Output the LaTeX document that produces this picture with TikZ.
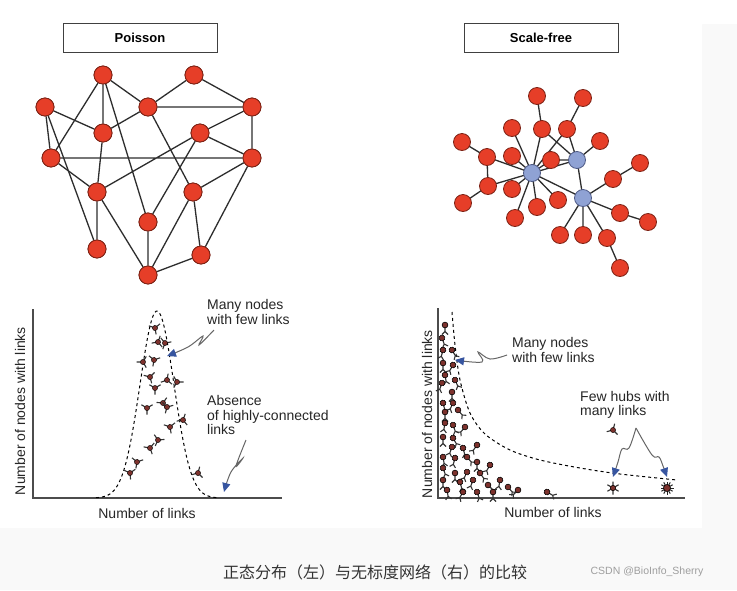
\documentclass[tikz,border=0pt]{standalone}
\usepackage{fontspec}
\setmainfont{Liberation Sans}
\newfontfamily\cjk{Noto Sans CJK SC}
\usetikzlibrary{arrows.meta}
\definecolor{nodeRed}{RGB}{230,62,40}
\definecolor{nodeRim}{RGB}{125,35,22}
\definecolor{hubBlue}{RGB}{143,162,212}
\definecolor{hubRim}{RGB}{80,92,135}
\definecolor{edgeGray}{RGB}{45,45,45}
\definecolor{arrowBlue}{RGB}{55,85,160}
\definecolor{markRed}{RGB}{125,50,45}
\definecolor{bgGray}{RGB}{249,249,249}
\tikzset{
  lbl/.style={font=\fontsize{14}{14.5}\selectfont, text=black!85, inner sep=0pt},
  tripod/.pic={\draw[line width=1.1pt, black!80] (0,0) -- (90:6.5) (0,0) -- (210:6.5) (0,0) -- (330:6.5);
               \fill[markRed, draw=black, line width=0.4pt] (0,0) circle (2.6);},
  lolly/.pic={\draw[line width=1.1pt, black!80] (0,0) -- (0,6.5) -- ++(-3,3) (0,6.5) -- ++(3,3);
              \fill[markRed, draw=black, line width=0.6pt] (0,0) circle (2.9);}
}
\begin{document}
\begin{tikzpicture}[x=1pt, y=-1pt,
    vertex/.style={circle, fill=nodeRed, draw=nodeRim, line width=0.8pt, minimum size=18pt, inner sep=0pt},
    hub/.style={circle, fill=hubBlue, draw=hubRim, line width=0.8pt, minimum size=17pt, inner sep=0pt},
    link/.style={draw=edgeGray, line width=1.3pt},
    axis/.style={draw=black!70, line width=1.4pt},
    curve/.style={line width=1pt, dash pattern=on 3pt off 3pt},
    squig/.style={draw=black!60, line width=1pt, -{Triangle[length=9pt, width=8pt, fill=arrowBlue, color=arrowBlue]}},
    title/.style={draw=black!75, line width=0.9pt, minimum width=154pt, minimum height=29pt, font=\bfseries\fontsize{13}{13}\selectfont}]
  \useasboundingbox (0,0) rectangle (737,590);
  \fill[bgGray] (0,0) rectangle (737,590);
  \fill[white] (0,0) rectangle (702,528) (702,0) rectangle (737,24);

  % Titles
  \node[title] (tpois) at (140,38) {Poisson};
  \node[title] (tscal) at (541,38) {Scale-free};

  % Poisson network: nodes
  \node[vertex] (pa) at (103,75)  {};
  \node[vertex] (pb) at (194,75)  {};
  \node[vertex] (pc) at (45,107)  {};
  \node[vertex] (pd) at (148,107) {};
  \node[vertex] (pe) at (252,107) {};
  \node[vertex] (pf) at (103,133) {};
  \node[vertex] (pg) at (200,133) {};
  \node[vertex] (ph) at (51,158)  {};
  \node[vertex] (pi) at (252,158) {};
  \node[vertex] (pj) at (97,192)  {};
  \node[vertex] (pk) at (193,192) {};
  \node[vertex] (pl) at (148,222) {};
  \node[vertex] (pm) at (97,249)  {};
  \node[vertex] (pn) at (201,255) {};
  \node[vertex] (po) at (148,275) {};
  % Poisson network: edges
  \draw[link] (pa)--(pd) (pa)--(pf) (pa)--(ph) (pa)--(pl) (pb)--(pd) (pb)--(pe);
  \draw[link] (pc)--(pf) (pc)--(ph) (pc)--(pm) (pd)--(pe) (pd)--(pf) (pd)--(pk);
  \draw[link] (pe)--(pg) (pe)--(pi) (pg)--(pj) (pg)--(pi) (pg)--(pl) (ph)--(pi);
  \draw[link] (ph)--(pj) (pf)--(pj) (pj)--(pm) (pj)--(po) (pk)--(po) (pk)--(pn);
  \draw[link] (pi)--(pk) (pi)--(pn) (pl)--(po) (pn)--(po);
  % redraw nodes on top of edges
  \foreach \n in {pa,pb,pc,pd,pe,pf,pg,ph,pi,pj,pk,pl,pm,pn,po}
    \node[vertex] at (\n) {};

  % Scale-free network: hubs and leaves
  \coordinate (h1) at (532,173);
  \coordinate (h2) at (577,160);
  \coordinate (h3) at (583,198);
  \foreach \n/\x/\y in {s1/537/96, s2/583/98, s3/512/128, s4/542/129, s5/567/129, s6/462/142,
      s7/600/141, s8/487/157, s9/512/156, s10/551/160, s11/640/163, s12/613/179, s13/488/186,
      s14/512/189, s15/463/203, s16/558/200, s17/537/207, s18/515/218, s19/620/213,
      s20/648/222, s21/560/235, s22/583/235, s23/607/238, s24/620/268}
    \coordinate (\n) at (\x,\y);
  % Scale-free network: edges
  \draw[link] (h1)--(h2) (h1)--(h3) (h2)--(h3) (h2)--(s4);
  \draw[link] (s1)--(s4)--(h1) (s2)--(s5)--(h2) (s5)--(h1) (s3)--(h1) (s6)--(s8)--(h1);
  \draw[link] (s8)--(s13) (s9)--(h1) (s10)--(h2) (s10)--(h1) (s7)--(h2);
  \draw[link] (s11)--(s12)--(h3) (s13)--(h1) (s13)--(s15) (s14)--(h1) (s16)--(h1);
  \draw[link] (s17)--(h1) (s18)--(h1) (s19)--(h3) (s19)--(s20) (s21)--(h3) (s22)--(h3);
  \draw[link] (s23)--(h3) (s23)--(s24);
  \foreach \n in {s1,s2,s3,s4,s5,s6,s7,s8,s9,s10,s11,s12,s13,s14,s15,s16,s17,s18,s19,s20,s21,s22,s23,s24}
    \node[vertex, minimum size=17pt] at (\n) {};
  \foreach \n in {h1,h2,h3}
    \node[hub] at (\n) {};

  % Poisson degree distribution
  \coordinate (lo) at (33,498);
  \coordinate (lx) at (282,498);
  \coordinate (ly) at (33,309);
  \draw[axis] (ly) -- (lo) -- (lx);
  \draw[curve] plot[domain=96:218, samples=80, smooth] (\x, {498-187*exp(-((\x-157)/17)^2/2)});
  \foreach \x/\y/\a in {155/328/10, 158/342/40, 165/343/-20, 143/362/30, 154/360/-10, 150/377/15,
      167/380/50, 177/382/-30, 155/388/0, 163/403/25, 167/407/-15, 147/408/0, 183/420/40,
      170/427/10, 158/440/-25, 150/448/20, 137/462/-10, 130/473/5, 198/473/45}
    \pic[rotate=\a] at (\x,\y) {tripod};
  \node[lbl, rotate=90] (lylab) at (20,411) {Number of nodes with links};
  \node[lbl] (lxlab) at (147,513) {Number of links};
  \node[lbl, align=left, anchor=west] (lmany) at (207,312) {Many nodes\\with few links};
  \node[lbl, align=left, anchor=west] (labs) at (207,415) {Absence\\of highly-connected\\links};
  \coordinate (la1) at (214,330);
  \coordinate (la2) at (167,356);
  \coordinate (lb1) at (246,440);
  \coordinate (lb2) at (224,492);
  \draw[squig] plot[smooth, tension=0.6] coordinates {(la1) (199,345) (203,336) (188,347) (la2)};
  \draw[squig] plot[smooth, tension=0.6] coordinates {(lb1) (236,466) (243,458) (231,472) (lb2)};

  % Scale-free degree distribution
  \coordinate (ro) at (438,498);
  \coordinate (rx) at (685,498);
  \coordinate (ry) at (438,308);
  \draw[axis] (ry) -- (ro) -- (rx);
  \draw[curve] plot[smooth] coordinates {(452,312) (455,345) (460,380) (470,413) (485,434)
      (510,450) (540,460) (580,468) (620,474) (677,480)};
  \foreach \x/\y/\a in {445/325/0, 442/338/20, 443/350/-15, 452/350/30, 443/363/0, 453/365/-30,
      445/375/10, 442/383/-20, 455/380/25, 452/392/0, 443/403/15, 453/403/-25, 445/412/0,
      458/410/40, 445/423/-10, 453/425/20, 465/427/-40, 443/437/0, 453/438/30, 452/447/-20,
      463/448/15, 477/445/-35, 443/457/10, 455/458/-15, 467/457/40, 477/462/0, 490/465/-30,
      443/468/20, 455/473/0, 467/472/-25, 480/473/35, 443/480/0, 460/482/15, 473/480/-20,
      488/485/45, 500/480/-10, 447/490/10, 463/492/-30, 477/492/20, 493/492/0, 508/487/40,
      518/490/-45, 547/492/60}
    \pic[rotate=\a] at (\x,\y) {lolly};
  \pic[rotate=45] at (613,430) {tripod};
  \pic[rotate=0] at (613,488) {tripod};
  \pic[rotate=60] at (613,488) {tripod};
  \foreach \a in {0,30,...,330}
    \draw[black!85, line width=1pt] (667,488) -- ++(\a:6.5);
  \fill[markRed, draw=black, line width=0.6pt] (667,488) circle (3.5);
  \node[lbl, rotate=90] (rylab) at (427,414) {Number of nodes with links};
  \node[lbl] (rxlab) at (553,512) {Number of links};
  \node[lbl, align=left, anchor=west] (rmany) at (512,350) {Many nodes\\with few links};
  \node[lbl, align=left, anchor=west] (rhubs) at (580,405) {Few hubs with\\many links};
  \coordinate (ra1) at (507,355);
  \coordinate (ra2) at (455,360);
  \coordinate (rtop) at (636,428);
  \coordinate (rb1) at (613,477);
  \coordinate (rb2) at (667,477);
  \draw[squig] plot[smooth, tension=0.6] coordinates {(ra1) (490,359) (478,352) (482,362) (ra2)};
  \draw[squig] plot[smooth, tension=0.6] coordinates {(rtop) (629,448) (622,449) (618,462) (rb1)};
  \draw[squig] plot[smooth, tension=0.6] coordinates {(rtop) (652,455) (659,457) (663,466) (rb2)};

  % Caption
  \node[font=\cjk\fontsize{16}{16}\selectfont, text=black!80] (cap) at (375,572) {正态分布（左）与无标度网络（右）的比较};
  \node[font=\fontsize{10.5}{10.5}\selectfont, text=black!38] (mark) at (647,572) {CSDN @BioInfo\_Sherry};
\end{tikzpicture}
\end{document}
